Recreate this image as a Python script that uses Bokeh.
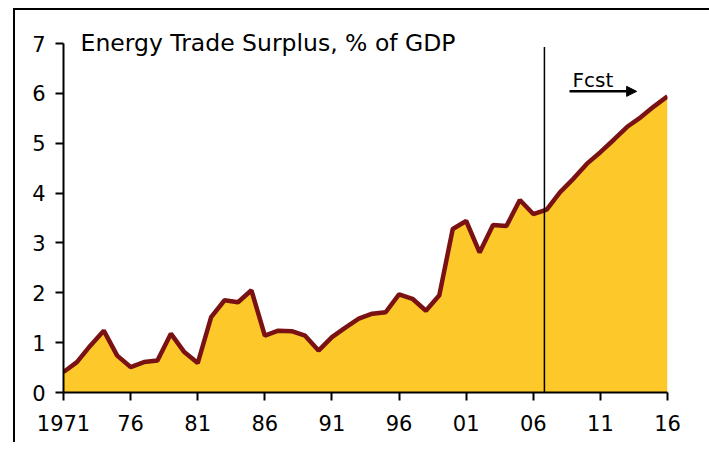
from bokeh.plotting import figure
from bokeh.layouts import column
from bokeh.models import Range1d, FixedTicker, Label, Arrow, NormalHead
from bokeh.embed import file_html
from bokeh.resources import INLINE

years = list(range(1971, 2017))
surplus = [0.41, 0.61, 0.94, 1.24, 0.74, 0.51, 0.61, 0.64, 1.18, 0.81,
           0.59, 1.51, 1.85, 1.81, 2.05, 1.14, 1.24, 1.23, 1.14, 0.84,
           1.11, 1.30, 1.48, 1.58, 1.61, 1.97, 1.88, 1.64, 1.95, 3.28,
           3.44, 2.81, 3.36, 3.34, 3.86, 3.58, 3.67, 4.02, 4.29, 4.59,
           4.82, 5.07, 5.33, 5.52, 5.74, 5.94]
x_ticks = [1971, 1976, 1981, 1986, 1991, 1996, 2001, 2006, 2011, 2016]
x_tick_labels = ["1971", "76", "81", "86", "91", "96", "01", "06", "11", "16"]
y_ticks = [0, 1, 2, 3, 4, 5, 6, 7]
title_text = "Energy Trade Surplus, % of GDP"
forecast_start = 2006.83
forecast_label = "Fcst"

FONT = "DejaVu Sans"
FILL = "#FDC82A"
LINE = "#7A1214"

p = figure(frame_width=604, frame_height=382,
           min_border_left=48, min_border_top=0, min_border_right=42, min_border_bottom=50,
           x_range=Range1d(1971, 2016), y_range=Range1d(0, 7.662),
           output_backend="svg", toolbar_location=None)

p.outline_line_color = None
p.xgrid.visible = False
p.ygrid.visible = False
p.background_fill_color = None
p.border_fill_color = None

p.varea(x=years, y1=[0] * len(years), y2=surplus, fill_color=FILL, fill_alpha=1.0)
p.line(x=years, y=surplus, line_color=LINE, line_width=4.5)

p.segment(x0=[forecast_start], y0=[0], x1=[forecast_start], y1=[6.93],
          line_color="black", line_width=1.5)

for ax in (p.xaxis[0], p.yaxis[0]):
    ax.axis_line_color = "black"
    ax.axis_line_width = 2
    ax.major_tick_line_color = "black"
    ax.major_tick_line_width = 2
    ax.major_tick_out = 8
    ax.major_tick_in = 0
    ax.minor_tick_line_color = None
    ax.major_label_text_font = FONT
    ax.major_label_text_font_size = "21px"
    ax.major_label_text_color = "black"

p.xaxis.ticker = FixedTicker(ticks=x_ticks)
p.xaxis.major_label_overrides = {t: l for t, l in zip(x_ticks, x_tick_labels)}
p.xaxis.major_label_standoff = 14
p.yaxis.ticker = FixedTicker(ticks=y_ticks)
p.yaxis.bounds = (0, 7)
p.yaxis.major_label_standoff = 10

p.add_layout(Label(x=1972.27, y=7.01, text=title_text, text_font=FONT,
                   text_font_size="23.5px", text_color="black",
                   text_baseline="alphabetic", text_align="left"))
p.add_layout(Label(x=2008.93, y=6.27, text=forecast_label, text_font=FONT,
                   text_font_size="20px", text_color="black",
                   text_baseline="alphabetic", text_align="left"))
p.add_layout(Arrow(x_start=2008.7, y_start=6.04, x_end=2013.7, y_end=6.04,
                   line_color="black", line_width=2.5,
                   end=NormalHead(size=10, fill_color="black", line_color="black")))

layout = column(p, margin=(8, 0, 0, 13),
                styles={"border-left": "2px solid black", "border-top": "2px solid black",
                        "background-color": "white"})

open("out.html", "w").write(file_html(layout, INLINE))
